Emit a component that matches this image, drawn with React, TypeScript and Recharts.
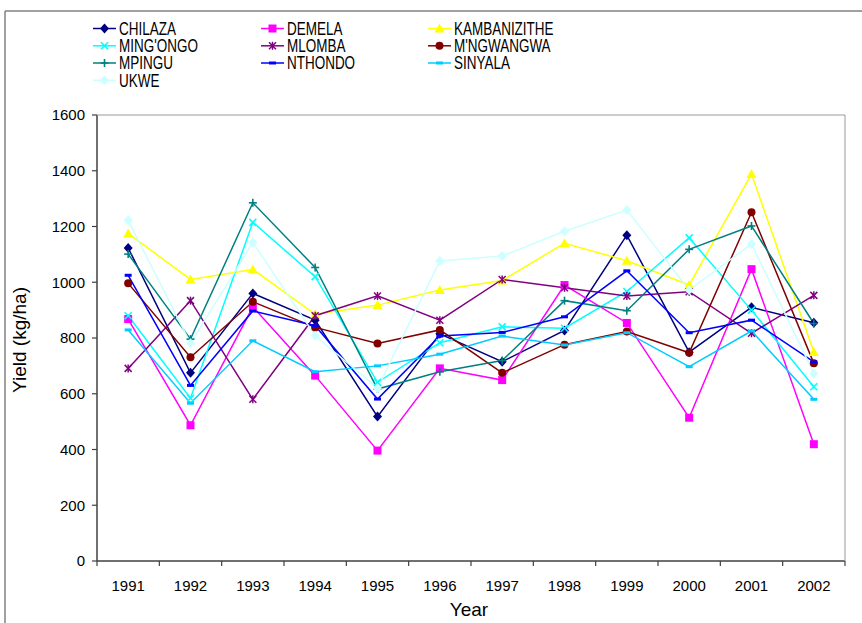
import React from 'react'
import { LineChart, Line, XAxis, YAxis } from 'recharts'

const years = ['1991', '1992', '1993', '1994', '1995', '1996', '1997', '1998', '1999', '2000', '2001', '2002']
const yTicks = [0, 200, 400, 600, 800, 1000, 1200, 1400, 1600]

const chilaza = [1123, 675, 960, 864, 518, 815, 715, 827, 1169, 749, 910, 855]
const demela = [868, 487, 912, 665, 396, 691, 649, 990, 854, 514, 1047, 419]
const kambanizithe = [1175, 1010, 1046, 885, 918, 972, 1006, 1140, 1077, 990, 1388, 750]
const mingongo = [880, 584, 1215, 1020, 641, 783, 840, 835, 967, 1159, 900, 625]
const mlomba = [691, 934, 580, 880, 951, 864, 1010, 980, 951, 966, 817, 953]
const mngwangwa = [996, 731, 930, 838, 780, 829, 675, 776, 823, 747, 1251, 709]
const mpingu = [1101, 796, 1285, 1053, 617, 679, 719, 934, 898, 1118, 1202, 852]
const nthondo = [1025, 630, 897, 844, 581, 807, 820, 876, 1041, 819, 864, 714]
const sinyala = [829, 566, 790, 679, 700, 742, 807, 775, 819, 697, 825, 580]
const ukwe = [1222, 781, 1143, 808, 620, 1076, 1094, 1183, 1259, 972, 1137, 673]

const series = [
  { name: 'CHILAZA', values: chilaza, color: '#000080', shape: 'diamond' },
  { name: 'DEMELA', values: demela, color: '#FF00FF', shape: 'square' },
  { name: 'KAMBANIZITHE', values: kambanizithe, color: '#FFFF00', shape: 'triangle' },
  { name: "MING'ONGO", values: mingongo, color: '#00FFFF', shape: 'x' },
  { name: 'MLOMBA', values: mlomba, color: '#800080', shape: 'asterisk' },
  { name: "M'NGWANGWA", values: mngwangwa, color: '#800000', shape: 'circle' },
  { name: 'MPINGU', values: mpingu, color: '#008080', shape: 'plus' },
  { name: 'NTHONDO', values: nthondo, color: '#0000FF', shape: 'dash' },
  { name: 'SINYALA', values: sinyala, color: '#00CCFF', shape: 'dash' },
  { name: 'UKWE', values: ukwe, color: '#CCFFFF', shape: 'diamond' },
]

const data = years.map((year, i) => {
  const row: any = { year }
  series.forEach(s => { row[s.name] = s.values[i] })
  return row
})

const W = 862
const H = 623
const PLOT = { left: 97, top: 115, right: 845, bottom: 561 }
const HALF = (PLOT.right - PLOT.left) / years.length / 2
const FONT = '"Liberation Sans", Arial, sans-serif'
const AXIS = '#404040'

function Marker({ cx, cy, color, shape }: any) {
  if (cx == null || cy == null) return null
  switch (shape) {
    case 'diamond':
      return <polygon points={`${cx},${cy - 5} ${cx + 4.5},${cy} ${cx},${cy + 5} ${cx - 4.5},${cy}`} fill={color} />
    case 'square':
      return <rect x={cx - 4} y={cy - 4} width={8} height={8} fill={color} />
    case 'triangle':
      return <polygon points={`${cx},${cy - 5} ${cx + 5},${cy + 4} ${cx - 5},${cy + 4}`} fill={color} />
    case 'circle':
      return <circle cx={cx} cy={cy} r={4} fill={color} />
    case 'x':
      return (
        <g stroke={color} strokeWidth={1.6}>
          <line x1={cx - 3.5} y1={cy - 3.5} x2={cx + 3.5} y2={cy + 3.5} />
          <line x1={cx - 3.5} y1={cy + 3.5} x2={cx + 3.5} y2={cy - 3.5} />
        </g>
      )
    case 'asterisk':
      return (
        <g stroke={color} strokeWidth={1.5}>
          <line x1={cx - 3.5} y1={cy - 3.5} x2={cx + 3.5} y2={cy + 3.5} />
          <line x1={cx - 3.5} y1={cy + 3.5} x2={cx + 3.5} y2={cy - 3.5} />
          <line x1={cx} y1={cy - 4} x2={cx} y2={cy + 4} />
        </g>
      )
    case 'plus':
      return (
        <g stroke={color} strokeWidth={1.6}>
          <line x1={cx - 4} y1={cy} x2={cx + 4} y2={cy} />
          <line x1={cx} y1={cy - 4} x2={cx} y2={cy + 4} />
        </g>
      )
    case 'dash':
      return <rect x={cx - 3.5} y={cy - 1.5} width={7} height={3} fill={color} />
    default:
      return null
  }
}

function YearTick({ x, y, payload, index }: any) {
  return (
    <g>
      <line x1={x - HALF} x2={x - HALF} y1={y} y2={y + 5} stroke={AXIS} strokeWidth={1.2} />
      {index === years.length - 1 && (
        <line x1={x + HALF} x2={x + HALF} y1={y} y2={y + 5} stroke={AXIS} strokeWidth={1.2} />
      )}
      <text
        x={x}
        y={y + 29.5}
        textAnchor="middle"
        fill="#000"
        style={{ fontSize: 15, fontFamily: FONT, fontWeight: 400 }}
      >
        {payload.value}
      </text>
    </g>
  )
}

const legendCols = [93, 261, 428]
const legendRows = [28.5, 45.8, 63, 80.3]

export default function App() {
  return (
    <div style={{ position: 'absolute', left: 0, top: 0, width: W, height: H, background: '#fff' }}>
      <LineChart
        width={W}
        height={H}
        data={data}
        margin={{ top: PLOT.top, right: W - PLOT.right, bottom: H - PLOT.bottom - 30, left: PLOT.left - 60 }}
      >
        <XAxis
          dataKey="year"
          height={30}
          interval={0}
          tickSize={0}
          tickMargin={0}
          tickLine={false}
          padding={{ left: HALF, right: HALF }}
          axisLine={{ stroke: AXIS, strokeWidth: 1.5 }}
          tick={<YearTick />}
        />
        <YAxis
          width={60}
          domain={[0, 1600]}
          ticks={yTicks}
          tickSize={5}
          tickMargin={7}
          axisLine={{ stroke: AXIS, strokeWidth: 1.5 }}
          tickLine={{ stroke: AXIS, strokeWidth: 1.2 }}
          tick={{ fill: '#000', fontSize: 15, fontFamily: FONT }}
        />
        {series.map(s => (
          <Line
            key={s.name}
            dataKey={s.name}
            stroke={s.color}
            strokeWidth={1.5}
            isAnimationActive={false}
            dot={(p: any) => <Marker key={`${s.name}-${p.index}`} cx={p.cx} cy={p.cy} color={s.color} shape={s.shape} />}
            activeDot={false}
          />
        ))}
      </LineChart>
      <svg width={W} height={H} style={{ position: 'absolute', left: 0, top: 0, pointerEvents: 'none' }}>
        <line x1={5} y1={11} x2={W} y2={11} stroke="#808080" strokeWidth={1.5} />
        <line x1={5} y1={11} x2={5} y2={H} stroke="#808080" strokeWidth={1.5} />
        <line x1={PLOT.left} y1={PLOT.top} x2={PLOT.right} y2={PLOT.top} stroke="#999" strokeWidth={1} />
        <line x1={PLOT.right} y1={PLOT.top} x2={PLOT.right} y2={PLOT.bottom} stroke="#999" strokeWidth={1} />
        <text x={469} y={616} textAnchor="middle" fontSize={19} fontFamily={FONT} fill="#000">Year</text>
        <text
          transform="translate(26,340) rotate(-90)"
          textAnchor="middle"
          fontSize={19}
          fontFamily={FONT}
          fill="#000"
        >
          Yield (kg/ha)
        </text>
        {series.map((s, i) => {
          const lx = legendCols[i % 3]
          const ly = legendRows[Math.floor(i / 3)]
          return (
            <g key={s.name}>
              <line x1={lx} x2={lx + 23} y1={ly} y2={ly} stroke={s.color} strokeWidth={1.5} />
              <Marker cx={lx + 11.5} cy={ly} color={s.color} shape={s.shape} />
              <g transform={`translate(${lx + 26},${ly + 6.3}) scale(0.77,1)`}>
                <text x={0} y={0} fontSize={17.5} fontFamily={FONT} fill="#000">{s.name}</text>
              </g>
            </g>
          )
        })}
      </svg>
    </div>
  )
}
